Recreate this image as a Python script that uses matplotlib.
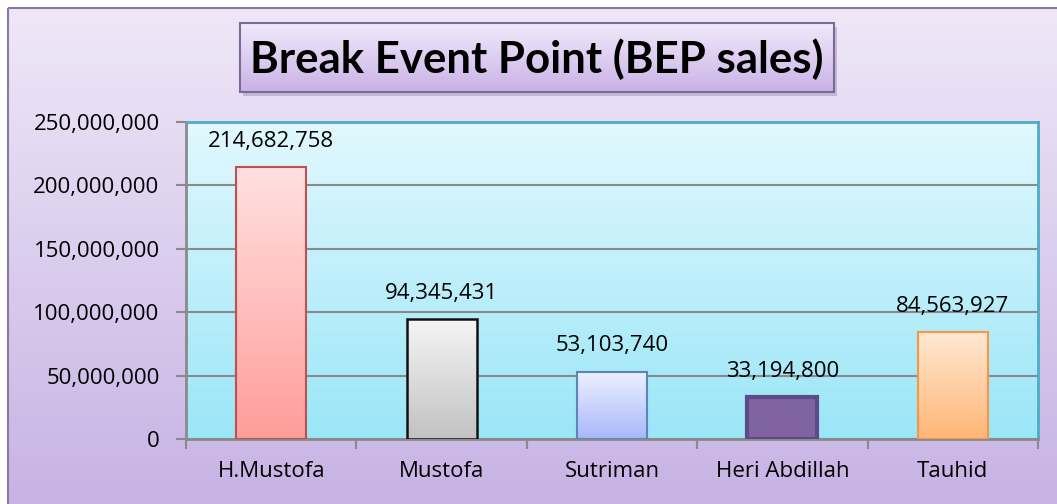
import numpy as np
import matplotlib
matplotlib.use("Agg")
import matplotlib.pyplot as plt
from matplotlib.colors import LinearSegmentedColormap
from matplotlib.patches import Rectangle
from matplotlib.ticker import FuncFormatter, MultipleLocator, FixedLocator

categories = ["H.Mustofa", "Mustofa", "Sutriman", "Heri Abdillah", "Tauhid"]
values = [214682758, 94345431, 53103740, 33194800, 84563927]
title = "Break Event Point (BEP sales)"
y_max = 250000000
y_step = 50000000

W, H = 1057, 504
FONT = "Open Sans"
FS = 16
fig = plt.figure(figsize=(W / 100, H / 100), dpi=100)

# ---- figure background ----
bg = fig.add_axes([0, 0, 1, 1])
bg.set_xlim(0, W)
bg.set_ylim(H, 0)
bg.axis("off")
grad = np.linspace(0, 1, 256).reshape(-1, 1)
bg_cmap = LinearSegmentedColormap.from_list("bg", ["#efe8f8", "#c7b3e4"])
bg.imshow(grad, extent=[8, W + 2, H, 8], cmap=bg_cmap, aspect="auto", zorder=0)
bg.add_patch(Rectangle((8, 8), W, H, fill=False, edgecolor="#8a78a6", lw=1.5, zorder=1))

# ---- title box ----
tx0, ty0, tw, th = 240, 23, 594, 69
bg.add_patch(Rectangle((tx0 + 3, ty0 + 4), tw, th, facecolor="#9a8ab0", alpha=0.45,
                       edgecolor="none", zorder=2))
tbox = Rectangle((tx0, ty0), tw, th, facecolor="none", edgecolor="#7b6a98", lw=1.5, zorder=4)
bg.add_patch(tbox)
t_cmap = LinearSegmentedColormap.from_list("t", ["#f1eafb", "#c9b2e6"])
im = bg.imshow(grad, extent=[tx0, tx0 + tw, ty0 + th, ty0], cmap=t_cmap, aspect="auto", zorder=3)
im.set_clip_path(Rectangle((tx0, ty0), tw, th, transform=bg.transData))
bg.text(tx0 + tw / 2, ty0 + th / 2 + 2, title, ha="center", va="center",
        fontsize=31.5, fontweight="bold", family="Lato", color="#000000", zorder=5)

# ---- main axes ----
L, R, T, B = 186, 1038, 122, 439
ax = fig.add_axes([L / W, (H - B) / H, (R - L) / W, (B - T) / H])
ax.patch.set_alpha(0)
n = len(categories)
ax.set_xlim(-0.5, n - 0.5)
ax.set_ylim(0, y_max)

p_cmap = LinearSegmentedColormap.from_list("p", ["#e2f8fe", "#9ae6f8"])
ax.imshow(grad, extent=[-0.5, n - 0.5, 0, y_max], cmap=p_cmap, aspect="auto", zorder=0)

ax.yaxis.set_major_locator(MultipleLocator(y_step))
ax.yaxis.set_major_formatter(FuncFormatter(lambda v, p: f"{int(v):,}"))
ax.grid(axis="y", color="#8a8a8a", lw=1.5, zorder=1)
ax.set_axisbelow(True)

bar_styles = [
    ("#ffe1e1", "#ff9d9a", "#c0504d", 1.5),
    ("#f5f5f5", "#c2c2c2", "#111111", 1.8),
    ("#eef0ff", "#a8b8fb", "#5b86b8", 1.5),
    ("#8064a2", "#8064a2", "#5e4a86", 3.0),
    ("#ffe9d4", "#ffb676", "#f79646", 1.5),
]
x = np.arange(n)
bars = ax.bar(x, values, width=0.41, facecolor="none", zorder=4)
for b, (c_top, c_bot, ec, lw) in zip(bars, bar_styles):
    b.set_edgecolor(ec)
    b.set_linewidth(lw)
    cm = LinearSegmentedColormap.from_list("b", [c_top, c_bot])
    bx, by, bw, bh = b.get_x(), b.get_y(), b.get_width(), b.get_height()
    gi = ax.imshow(grad, extent=[bx, bx + bw, by, by + bh], cmap=cm, aspect="auto", zorder=3)
    gi.set_clip_path(b)

for xi, v in zip(x, values):
    ax.annotate(f"{v:,}", (xi, v), xytext=(0, 18.5), textcoords="offset points",
                ha="center", va="center", fontsize=FS, family=FONT, color="#000000", zorder=6)

ax.set_xticks(x)
ax.set_xticklabels(categories)
ax.xaxis.set_minor_locator(FixedLocator(np.arange(-0.5, n, 1.0)))
ax.tick_params(axis="x", which="major", length=0, pad=16, labelsize=FS)
ax.tick_params(axis="x", which="minor", length=7, color="#8a8a8a", width=1.5)
ax.tick_params(axis="y", length=7, color="#8a8a8a", width=1.5, pad=12, labelsize=FS)
for lab in ax.get_xticklabels() + ax.get_yticklabels():
    lab.set_family(FONT)

for side in ["left", "bottom"]:
    ax.spines[side].set_color("#8a8a8a")
    ax.spines[side].set_linewidth(2)
for side in ["top", "right"]:
    ax.spines[side].set_color("#4bacc6")
    ax.spines[side].set_linewidth(2)

fig.savefig("out.png", dpi=100)
